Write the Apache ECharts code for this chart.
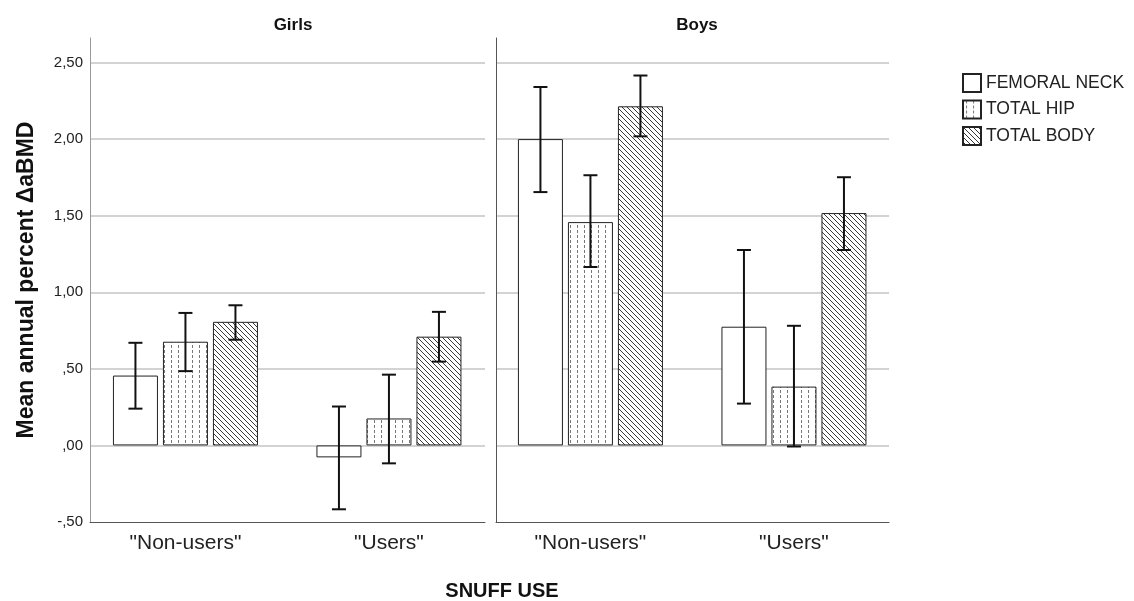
<!DOCTYPE html>
<html>
<head>
<meta charset="utf-8">
<script src="https://cdn.jsdelivr.net/npm/echarts@6/dist/echarts.min.js"></script>
<style>
  html, body { margin: 0; padding: 0; background: #fff; }
  #chart { width: 1134px; height: 601px; }
</style>
</head>
<body>
<div id="chart"></div>
<script>
// data
const categories = ['"Non-users"', '"Users"']
const panels = ['Girls', 'Boys']
const measures = ['FEMORAL NECK', 'TOTAL HIP', 'TOTAL BODY']

const girlsNeck = [0.456, -0.078]
const girlsNeckLow = [0.24, -0.417]
const girlsNeckHigh = [0.67, 0.254]
const girlsHip = [0.677, 0.176]
const girlsHipLow = [0.485, -0.117]
const girlsHipHigh = [0.865, 0.462]
const girlsBody = [0.807, 0.71]
const girlsBodyLow = [0.69, 0.547]
const girlsBodyHigh = [0.915, 0.872]

const boysNeck = [2.0, 0.775]
const boysNeckLow = [1.654, 0.273]
const boysNeckHigh = [2.34, 1.276]
const boysHip = [1.458, 0.384]
const boysHipLow = [1.165, -0.007]
const boysHipHigh = [1.764, 0.781]
const boysBody = [2.214, 1.517]
const boysBodyLow = [2.018, 1.276]
const boysBodyHigh = [2.415, 1.751]

const BAR_W = 45
const BAR_GAP = 5
const FONT = '"Liberation Sans", Arial, sans-serif'

// fill patterns
function dotPattern() {
    const c = document.createElement('canvas')
    c.width = 7; c.height = 5
    const ctx = c.getContext('2d')
    ctx.fillStyle = '#fff'
    ctx.fillRect(0, 0, 7, 5)
    ctx.fillStyle = '#777'
    ctx.fillRect(3, 0, 1, 3)
    return c
}
function hatchPattern() {
    const s = 5
    const c = document.createElement('canvas')
    c.width = s; c.height = s
    const ctx = c.getContext('2d')
    ctx.fillStyle = '#fff'
    ctx.fillRect(0, 0, s, s)
    ctx.strokeStyle = '#3a3a3a'
    ctx.lineWidth = 1
    ctx.beginPath()
    ctx.moveTo(-1, -1); ctx.lineTo(s + 1, s + 1)
    ctx.moveTo(s - 1, -1); ctx.lineTo(s + 1, 1)
    ctx.moveTo(-1, s - 1); ctx.lineTo(1, s + 1)
    ctx.stroke()
    return c
}
const fills = [
    '#fff',
    { image: dotPattern(), repeat: 'repeat' },
    { image: hatchPattern(), repeat: 'repeat' }
]

function fmt(v) {
    if (Math.abs(v * 2 - Math.round(v * 2)) > 1e-6) return ''
    return v.toFixed(2).replace('.', ',').replace(/^(-?)0,/, '$1,')
}

function errorSeries(name, idx, gridIdx, low, high) {
    return {
        name: name,
        type: 'custom',
        xAxisIndex: gridIdx,
        yAxisIndex: gridIdx,
        z: 5,
        encode: { x: 0, y: [1, 2] },
        data: low.map((l, i) => [i, l, high[i]]),
        renderItem: function (params, api) {
            const off = (idx - 1) * (BAR_W + BAR_GAP)
            const x = api.coord([api.value(0), 0])[0] + off
            const yl = api.coord([api.value(0), api.value(1)])[1]
            const yh = api.coord([api.value(0), api.value(2)])[1]
            const st = { stroke: '#111', lineWidth: 2 }
            return {
                type: 'group',
                children: [
                    { type: 'line', shape: { x1: x, y1: yl, x2: x, y2: yh }, style: st },
                    { type: 'line', shape: { x1: x - 7, y1: yl, x2: x + 7, y2: yl }, style: st },
                    { type: 'line', shape: { x1: x - 7, y1: yh, x2: x + 7, y2: yh }, style: st }
                ]
            }
        }
    }
}

function barSeries(name, idx, gridIdx, values) {
    return {
        name: name,
        type: 'bar',
        xAxisIndex: gridIdx,
        yAxisIndex: gridIdx,
        barWidth: BAR_W,
        barGap: (BAR_GAP / BAR_W * 100) + '%',
        data: values.map((v, i) => [i, v]),
        itemStyle: { color: fills[idx], borderColor: '#222', borderWidth: 1 },
        emphasis: { disabled: true }
    }
}

const grids = [
    { left: 90, width: 395, top: 38, bottom: 79 },
    { left: 496, width: 393, top: 38, bottom: 79 }
]
// category positions inside each panel (SPSS pads the ends a little)
const xRanges = [[-0.469, 1.472], [-0.464, 1.467]]

const xAxes = grids.map((g, i) => ({
    type: 'value',
    gridIndex: i,
    min: xRanges[i][0],
    max: xRanges[i][1],
    splitLine: { show: false },
    axisLine: { onZero: false, lineStyle: { color: '#555', width: 1 } },
    axisTick: { show: false },
    axisLabel: {
        fontFamily: FONT, fontSize: 21, color: '#222', margin: 11,
        customValues: [0, 1],
        formatter: v => categories[Math.round(v)]
    }
}))

const yAxes = grids.map((g, i) => ({
    type: 'value',
    gridIndex: i,
    min: -0.5,
    max: 2.66,
    interval: 0.5,
    axisLine: { show: true, onZero: false, lineStyle: { color: i === 0 ? '#999' : '#555', width: 1 } },
    axisTick: { show: false },
    splitLine: { showMaxLine: false, showMinLine: false, lineStyle: { color: '#c4c4c4', width: 1.5 } },
    axisLabel: {
        show: i === 0, fontFamily: FONT, fontSize: 15, color: '#222', margin: 7,
        formatter: fmt
    },
    name: i === 0 ? 'Mean annual percent ΔaBMD' : '',
    nameLocation: 'middle',
    nameGap: 52,
    nameTextStyle: { fontFamily: FONT, fontSize: 23, fontWeight: 'bold', color: '#111' }
}))

const series = [
    barSeries(measures[0], 0, 0, girlsNeck),
    barSeries(measures[1], 1, 0, girlsHip),
    barSeries(measures[2], 2, 0, girlsBody),
    barSeries(measures[0], 0, 1, boysNeck),
    barSeries(measures[1], 1, 1, boysHip),
    barSeries(measures[2], 2, 1, boysBody),
    errorSeries('err', 0, 0, girlsNeckLow, girlsNeckHigh),
    errorSeries('err', 1, 0, girlsHipLow, girlsHipHigh),
    errorSeries('err', 2, 0, girlsBodyLow, girlsBodyHigh),
    errorSeries('err', 0, 1, boysNeckLow, boysNeckHigh),
    errorSeries('err', 1, 1, boysHipLow, boysHipHigh),
    errorSeries('err', 2, 1, boysBodyLow, boysBodyHigh)
]

const myChart = echarts.init(document.getElementById('chart'), null, { renderer: 'canvas' })
const option = {
    animation: false,
    backgroundColor: '#fff',
    title: [
        { text: panels[0], left: 288, top: 12, textAlign: 'center',
          textStyle: { fontFamily: FONT, fontSize: 17, fontWeight: 'bold', color: '#111' } },
        { text: panels[1], left: 692, top: 12, textAlign: 'center',
          textStyle: { fontFamily: FONT, fontSize: 17, fontWeight: 'bold', color: '#111' } },
        { text: 'SNUFF USE', left: 497, top: 576, textAlign: 'center',
          textStyle: { fontFamily: FONT, fontSize: 20, fontWeight: 'bold', color: '#111' } }
    ],
    legend: {
        data: measures,
        orient: 'vertical',
        left: 962,
        top: 73,
        padding: 0,
        itemWidth: 18,
        itemHeight: 18,
        itemGap: 6.5,
        icon: 'rect',
        selectedMode: false,
        textStyle: { fontFamily: FONT, fontSize: 17.5, lineHeight: 18, color: '#222' }
    },
    grid: grids,
    xAxis: xAxes,
    yAxis: yAxes,
    series: series
}
option && myChart.setOption(option, true)
</script>
</body>
</html>
